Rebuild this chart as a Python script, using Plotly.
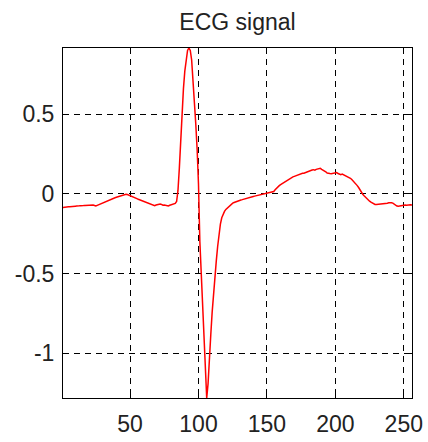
import plotly.graph_objects as go

ecg = [
    -0.085, -0.083, -0.084, -0.082, -0.080, -0.081, -0.079, -0.078, -0.079, -0.077,
    -0.076, -0.077, -0.075, -0.074, -0.075, -0.073, -0.072, -0.071, -0.072, -0.070,
    -0.071, -0.069, -0.070, -0.073, -0.076, -0.072, -0.068, -0.066, -0.062, -0.057,
    -0.053, -0.050, -0.045, -0.041, -0.038, -0.034, -0.030, -0.027, -0.024, -0.021,
    -0.018, -0.014, -0.011, -0.008, -0.006, -0.003, -0.002, -0.004, -0.007, -0.011,
    -0.015, -0.019, -0.022, -0.026, -0.030, -0.034, -0.037, -0.040, -0.043, -0.046,
    -0.048, -0.051, -0.054, -0.057, -0.060, -0.064, -0.068, -0.074, -0.070, -0.067,
    -0.066, -0.064, -0.066, -0.071, -0.069, -0.070, -0.073, -0.075, -0.071, -0.069,
    -0.068, -0.066, -0.060, -0.048, 0.020, 0.160, 0.360, 0.540, 0.660, 0.770,
    0.850, 0.900, 0.915, 0.900, 0.840, 0.720, 0.570, 0.440, 0.280, 0.060,
    -0.300, -0.520, -0.740, -0.940, -1.120, -1.280, -1.190, -1.000, -0.880, -0.740,
    -0.610, -0.510, -0.420, -0.330, -0.250, -0.190, -0.150, -0.125, -0.110, -0.097,
    -0.088, -0.080, -0.072, -0.064, -0.058, -0.054, -0.050, -0.047, -0.044, -0.040,
    -0.038, -0.036, -0.033, -0.030, -0.028, -0.026, -0.022, -0.019, -0.017, -0.016,
    -0.014, -0.012, -0.010, -0.008, -0.006, -0.005, -0.003, -0.001, 0.002, 0.004,
    0.005, 0.006, 0.007, 0.009, 0.015, 0.026, 0.036, 0.044, 0.052, 0.058,
    0.064, 0.070, 0.074, 0.078, 0.084, 0.089, 0.095, 0.101, 0.107, 0.110,
    0.114, 0.117, 0.119, 0.121, 0.125, 0.129, 0.130, 0.134, 0.138, 0.141,
    0.143, 0.146, 0.150, 0.152, 0.149, 0.154, 0.157, 0.158, 0.160, 0.154,
    0.150, 0.146, 0.139, 0.131, 0.128, 0.128, 0.127, 0.129, 0.128, 0.130,
    0.134, 0.128, 0.125, 0.121, 0.124, 0.120, 0.114, 0.112, 0.110, 0.105,
    0.098, 0.090, 0.082, 0.074, 0.066, 0.052, 0.040, 0.026, 0.006, -0.002,
    -0.012, -0.022, -0.031, -0.038, -0.046, -0.052, -0.058, -0.063, -0.066, -0.067,
    -0.066, -0.066, -0.065, -0.066, -0.064, -0.063, -0.062, -0.058, -0.055, -0.054,
    -0.055, -0.058, -0.066, -0.073, -0.076, -0.077, -0.075, -0.076, -0.074, -0.072,
    -0.070, -0.071, -0.069, -0.070, -0.068, -0.069,
]
samples = list(range(1, len(ecg) + 1))

x_ticks = [50, 100, 150, 200, 250]
y_ticks = [-1, -0.5, 0, 0.5]
y_tick_text = ["-1", "-0.5", "0", "0.5"]

font = dict(family="Liberation Sans, Arial, sans-serif", size=23, color="#222222")

fig = go.Figure()
fig.add_trace(go.Scatter(
    x=samples, y=ecg, mode="lines",
    line=dict(color="#ff0000", width=1.5),
    showlegend=False, hoverinfo="skip",
))

axis_common = dict(
    showline=True, linecolor="black", linewidth=1, mirror="ticks",
    ticks="inside", ticklen=5, tickcolor="black",
    showgrid=True, gridcolor="black", gridwidth=1, griddash="6px,5px",
    zeroline=False, tickfont=font, automargin=False,
)

fig.update_xaxes(range=[1, len(ecg)], tickvals=x_ticks, ticklabelstandoff=5,
                 **axis_common)
fig.update_yaxes(range=[-1.28, 0.915], tickvals=y_ticks, ticktext=y_tick_text,
                 ticklabelstandoff=3, **axis_common)

fig.update_layout(
    width=428, height=442,
    margin=dict(l=63, r=16, t=48, b=44),
    paper_bgcolor="white", plot_bgcolor="white",
    title=dict(text="ECG signal", x=237.5 / 428, xanchor="center",
               y=1 - 22 / 442, yanchor="middle", font=font),
    font=font,
)

fig.write_html("out.html")
